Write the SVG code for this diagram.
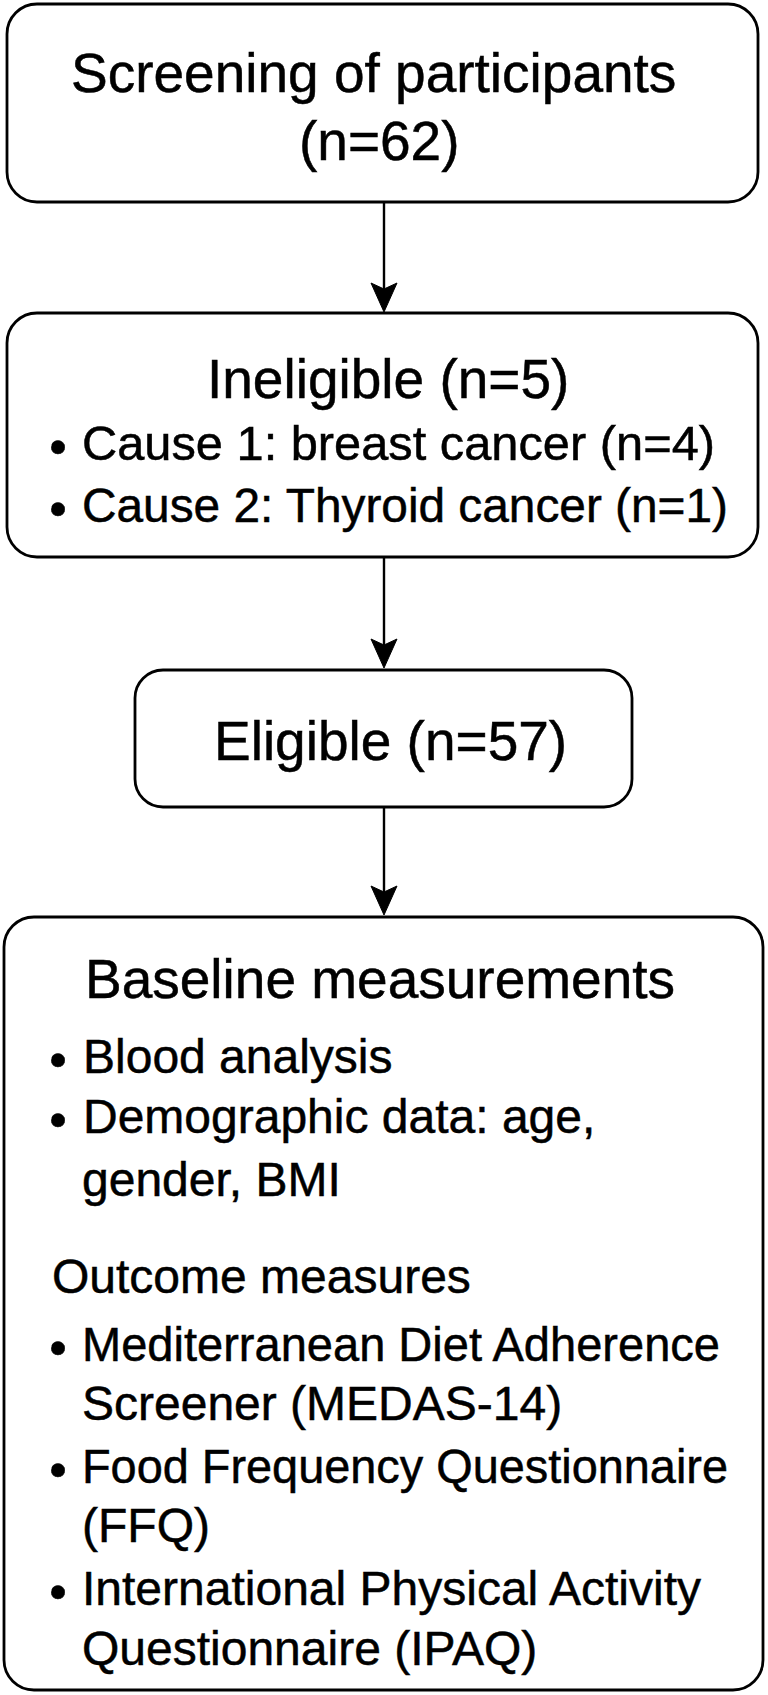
<svg xmlns="http://www.w3.org/2000/svg" xmlns:xlink="http://www.w3.org/1999/xlink" width="768" height="1695" viewBox="0 0 768 1695">
<style>
.box{fill:#ffffff;stroke:#000000;stroke-width:2.8}
.conn{stroke:#000000;stroke-width:2.4;fill:none}
.head{fill:#000000;stroke:#000000;stroke-width:1}
text{font-family:"Liberation Sans",Arial,sans-serif;fill:#000000;stroke:#000000;stroke-width:0.5}
.t{font-size:55px}
.b{font-size:48px}
.d{font-size:50px}
</style>
<defs>
<path id="ah" class="head" d="M0,0 L-13,-29 L0,-23 L13,-29 Z"/>
</defs>
<rect width="768" height="1695" fill="#ffffff"/>
<g id="connectors">
<line class="conn" x1="384" y1="202" x2="384" y2="292"/>
<use xlink:href="#ah" href="#ah" transform="translate(384,312)"/>
<line class="conn" x1="384" y1="557" x2="384" y2="648"/>
<use xlink:href="#ah" href="#ah" transform="translate(384,668)"/>
<line class="conn" x1="384" y1="807" x2="384" y2="895"/>
<use xlink:href="#ah" href="#ah" transform="translate(384,915)"/>
</g>
<g id="screening">
<rect class="box" x="7" y="4" width="751" height="198" rx="30" ry="30"/>
<text class="t" x="71" y="92">Screening of participants</text>
<text class="t" x="299" y="160">(n=62)</text>
</g>
<g id="ineligible">
<rect class="box" x="7" y="313" width="751" height="244" rx="30" ry="30"/>
<text class="t" x="207" y="398">Ineligible (n=5)</text>
<text class="d" x="58" y="464" text-anchor="middle">•</text>
<text class="b" x="82" y="460" textLength="633" lengthAdjust="spacingAndGlyphs">Cause 1: breast cancer (n=4)</text>
<text class="d" x="58" y="526" text-anchor="middle">•</text>
<text class="b" x="82" y="522" textLength="646" lengthAdjust="spacingAndGlyphs">Cause 2: Thyroid cancer (n=1)</text>
</g>
<g id="eligible">
<rect class="box" x="135" y="670" width="497" height="137" rx="28" ry="28"/>
<text class="t" x="214" y="760">Eligible (n=57)</text>
</g>
<g id="baseline">
<rect class="box" x="4" y="917" width="759" height="773" rx="30" ry="30"/>
<text class="t" x="85" y="998">Baseline measurements</text>
<text class="d" x="58" y="1077" text-anchor="middle">•</text>
<text class="b" x="83" y="1073">Blood analysis</text>
<text class="d" x="58" y="1137" text-anchor="middle">•</text>
<text class="b" x="83" y="1133">Demographic data: age,</text>
<text class="b" x="82" y="1196">gender, BMI</text>
<text class="b" x="52" y="1293">Outcome measures</text>
<text class="d" x="58" y="1365" text-anchor="middle">•</text>
<text class="b" x="82" y="1361" textLength="638" lengthAdjust="spacingAndGlyphs">Mediterranean Diet Adherence</text>
<text class="b" x="82" y="1420">Screener (MEDAS-14)</text>
<text class="d" x="58" y="1487" text-anchor="middle">•</text>
<text class="b" x="82" y="1483" textLength="646" lengthAdjust="spacingAndGlyphs">Food Frequency Questionnaire</text>
<text class="b" x="82" y="1542">(FFQ)</text>
<text class="d" x="58" y="1609" text-anchor="middle">•</text>
<text class="b" x="82" y="1605">International Physical Activity</text>
<text class="b" x="82" y="1665">Questionnaire (IPAQ)</text>
</g>
</svg>
